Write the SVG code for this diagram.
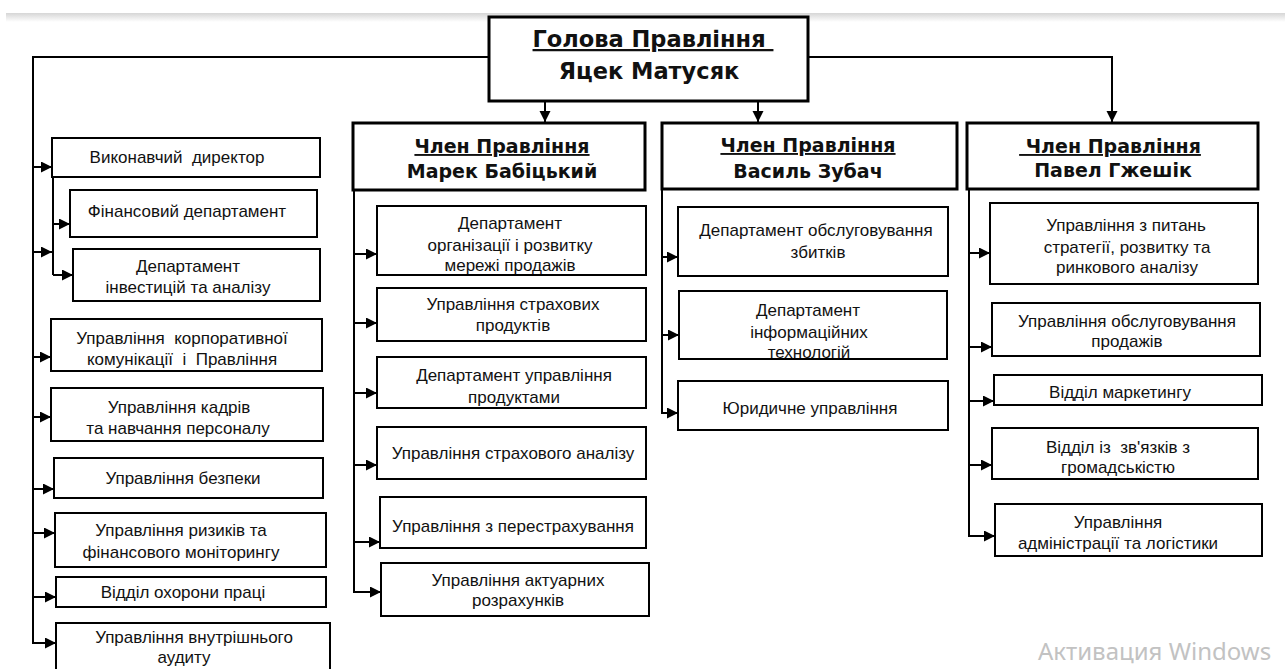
<svg xmlns="http://www.w3.org/2000/svg" width="1285" height="669" viewBox="0 0 1285 669">
<defs>
<linearGradient id="topshade" x1="0" y1="0" x2="0" y2="1">
<stop offset="0" stop-color="#d6d6d6"/>
<stop offset="1" stop-color="#ffffff"/>
</linearGradient>
<marker id="ah" markerUnits="userSpaceOnUse" markerWidth="13" markerHeight="12" refX="11" refY="5.5" orient="auto">
<path d="M0,0 L11,5.5 L0,11 z" fill="#000"/>
</marker>
</defs>
<style>
.bx{fill:#fff;stroke:#000;stroke-width:2}
.bb{fill:#fff;stroke:#000;stroke-width:3}
.t{font-family:"Liberation Sans",Arial,sans-serif;font-size:17px;fill:#111;text-anchor:middle}
.h{font-family:"DejaVu Sans",Verdana,sans-serif;font-weight:bold;font-size:19px;fill:#111;text-anchor:middle;white-space:pre}
.hh{font-size:22.5px}
.u{text-decoration:underline}
.c{fill:none;stroke:#000;stroke-width:2}
.ca{fill:none;stroke:#000;stroke-width:2;marker-end:url(#ah)}
.wm{font-family:"Noto Sans","Open Sans",sans-serif;font-size:24px;fill:#c2c2c2}
</style>
<rect x="0" y="0" width="1285" height="669" fill="#fff"/>
<rect x="6" y="13" width="1279" height="9" fill="url(#topshade)"/>

<g id="connectors">
<polyline class="ca" points="489,57 33,57 33,643 56,643"/>
<line class="ca" x1="33" y1="167" x2="52" y2="167"/>
<line class="ca" x1="33" y1="252" x2="52" y2="252"/>
<polyline class="c" points="53,177 53,275"/>
<line class="ca" x1="53" y1="224" x2="70" y2="224"/>
<line class="ca" x1="53" y1="275" x2="73" y2="275"/>
<line class="ca" x1="33" y1="357" x2="51" y2="357"/>
<line class="ca" x1="33" y1="417" x2="51" y2="417"/>
<line class="ca" x1="33" y1="489" x2="54" y2="489"/>
<line class="ca" x1="33" y1="533" x2="55" y2="533"/>
<line class="ca" x1="33" y1="597" x2="56" y2="597"/>

<line class="ca" x1="545" y1="101" x2="545" y2="122"/>
<line class="ca" x1="758" y1="101" x2="758" y2="122"/>
<polyline class="ca" points="808,57 1112,57 1112,122"/>

<polyline class="ca" points="354,190 354,592 381,592"/>
<line class="ca" x1="354" y1="254" x2="377" y2="254"/>
<line class="ca" x1="354" y1="323" x2="377" y2="323"/>
<line class="ca" x1="354" y1="393" x2="377" y2="393"/>
<line class="ca" x1="354" y1="465" x2="377" y2="465"/>
<line class="ca" x1="354" y1="542" x2="380" y2="542"/>

<polyline class="ca" points="662,189 662,413 678,413"/>
<line class="ca" x1="662" y1="257" x2="678" y2="257"/>
<line class="ca" x1="662" y1="335" x2="679" y2="335"/>

<polyline class="ca" points="969,189 969,536 995,536"/>
<line class="ca" x1="969" y1="253" x2="990" y2="253"/>
<line class="ca" x1="969" y1="347" x2="992" y2="347"/>
<line class="ca" x1="969" y1="401" x2="994" y2="401"/>
<line class="ca" x1="969" y1="465" x2="992" y2="465"/>
</g>

<g id="head">
<rect class="bb" x="489" y="17" width="319" height="84"/>
<text class="h hh u" x="653" y="47">Голова Правління </text>
<text class="h hh" x="649" y="79">Яцек Матусяк</text>
</g>

<g id="marek">
<rect class="bb" x="353" y="123" width="292" height="67"/>
<text class="h u" x="502" y="153">Член Правління</text>
<text class="h" x="502" y="178">Марек Бабіцький</text>
</g>
<g id="vasyl">
<rect class="bb" x="662" y="123" width="295" height="66"/>
<text class="h u" x="808" y="152">Член Правління</text>
<text class="h" x="808" y="178">Василь Зубач</text>
</g>
<g id="pavel">
<rect class="bb" x="967" y="123" width="291" height="66"/>
<text class="h u" x="1110" y="153"> Член Правління</text>
<text class="h" x="1113" y="177">Павел Гжешік</text>
</g>

<g id="l1"><rect class="bx" x="52" y="138" width="268" height="39"/><text class="t" x="177" y="163" style="white-space:pre">Виконавчий  директор</text></g>
<g id="l2"><rect class="bx" x="70" y="190" width="247" height="47"/><text class="t" x="187" y="217">Фінансовий департамент</text></g>
<g id="l3"><rect class="bx" x="73" y="249" width="247" height="52"/><text class="t" x="188" y="272">Департамент</text><text class="t" x="188" y="293">інвестицій та аналізу</text></g>
<g id="l4"><rect class="bx" x="51" y="319" width="271" height="52"/><text class="t" x="182" y="344" style="white-space:pre">Управління  корпоративної</text><text class="t" x="182" y="365" style="white-space:pre">комунікації  і  Правління</text></g>
<g id="l5"><rect class="bx" x="51" y="388" width="272" height="53"/><text class="t" x="179" y="413">Управління кадрів</text><text class="t" x="178" y="434">та навчання персоналу</text></g>
<g id="l6"><rect class="bx" x="54" y="458" width="269" height="40"/><text class="t" x="183" y="484">Управління безпеки</text></g>
<g id="l7"><rect class="bx" x="55" y="513" width="271" height="54"/><text class="t" x="181" y="536">Управління ризиків та</text><text class="t" x="181" y="558">фінансового моніторингу</text></g>
<g id="l8"><rect class="bx" x="56" y="577" width="270" height="30"/><text class="t" x="183" y="598">Відділ охорони праці</text></g>
<g id="l9"><rect class="bx" x="56" y="623" width="274" height="60"/><text class="t" x="194" y="643">Управління внутрішнього</text><text class="t" x="184" y="663">аудиту</text></g>

<g id="m1"><rect class="bx" x="377" y="206" width="269" height="69"/><text class="t" x="510" y="229">Департамент</text><text class="t" x="510" y="251">організації і розвитку</text><text class="t" x="510" y="271">мережі продажів</text></g>
<g id="m2"><rect class="bx" x="377" y="288" width="269" height="53"/><text class="t" x="513" y="310">Управління страхових</text><text class="t" x="513" y="331">продуктів</text></g>
<g id="m3"><rect class="bx" x="377" y="357" width="269" height="51"/><text class="t" x="514" y="381">Департамент управління</text><text class="t" x="514" y="403">продуктами</text></g>
<g id="m4"><rect class="bx" x="377" y="427" width="269" height="52"/><text class="t" x="513" y="459">Управління страхового аналізу</text></g>
<g id="m5"><rect class="bx" x="380" y="497" width="266" height="51"/><text class="t" x="513" y="532">Управління з перестрахування</text></g>
<g id="m6"><rect class="bx" x="381" y="563" width="268" height="53"/><text class="t" x="518" y="586">Управління актуарних</text><text class="t" x="518" y="606">розрахунків</text></g>

<g id="v1"><rect class="bx" x="678" y="207" width="270" height="69"/><text class="t" x="816" y="236">Департамент обслуговування</text><text class="t" x="818" y="258">збитків</text></g>
<g id="v2"><rect class="bx" x="679" y="291" width="268" height="68"/><text class="t" x="808" y="316">Департамент</text><text class="t" x="809" y="338">інформаційних</text><text class="t" x="809" y="358">технологій</text></g>
<g id="v3"><rect class="bx" x="678" y="381" width="270" height="49"/><text class="t" x="810" y="414">Юридичне управління</text></g>

<g id="p1"><rect class="bx" x="990" y="203" width="268" height="81"/><text class="t" x="1126" y="231">Управління з питань</text><text class="t" x="1127" y="253">стратегії, розвитку та</text><text class="t" x="1127" y="273">ринкового аналізу</text></g>
<g id="p2"><rect class="bx" x="992" y="303" width="268" height="53"/><text class="t" x="1127" y="327">Управління обслуговування</text><text class="t" x="1127" y="347">продажів</text></g>
<g id="p3"><rect class="bx" x="994" y="375" width="268" height="30"/><text class="t" x="1120" y="398">Відділ маркетингу</text></g>
<g id="p4"><rect class="bx" x="992" y="428" width="266" height="51"/><text class="t" x="1118" y="453" style="white-space:pre">Відділ із  зв'язків з</text><text class="t" x="1118" y="473">громадськістю</text></g>
<g id="p5"><rect class="bx" x="995" y="504" width="267" height="52"/><text class="t" x="1118" y="528">Управління</text><text class="t" x="1118" y="549">адміністрації та логістики</text></g>

<text class="wm" x="1038" y="660">Активация Windows</text>
</svg>
